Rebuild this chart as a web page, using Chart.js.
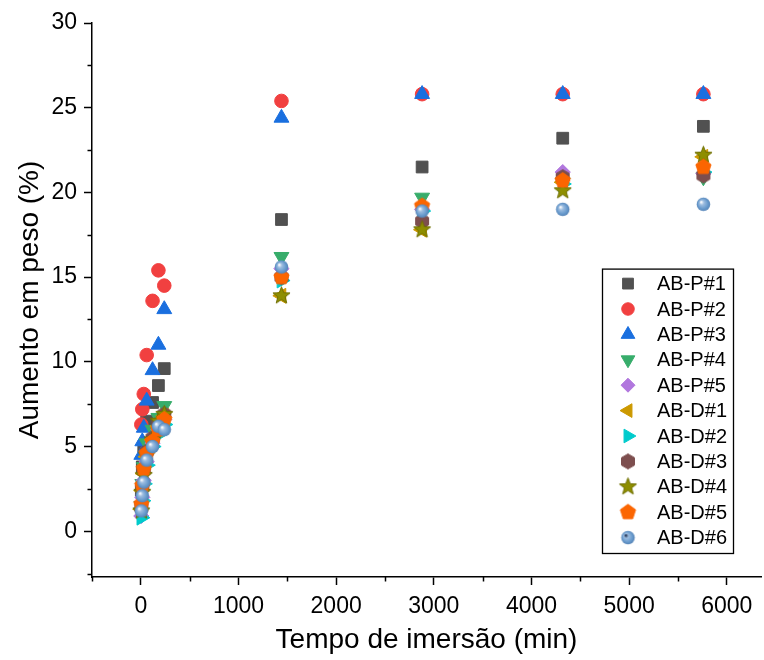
<!DOCTYPE html>
<html>
<head>
<meta charset="utf-8">
<script src="https://cdn.jsdelivr.net/npm/chart.js@4.4.1/dist/chart.umd.min.js"></script>
<style>
html,body{margin:0;padding:0;background:#ffffff;}
#wrap{width:764px;height:660px;}
</style>
</head>
<body>
<div id="wrap"><canvas id="c" width="764" height="660"></canvas></div>
<script>
// ---------- DATA ----------
const timeMin = [5, 15, 30, 60, 120, 180, 240, 1440, 2880, 4320, 5760];
const seriesLabels = ['AB-P#1','AB-P#2','AB-P#3','AB-P#4','AB-P#5','AB-D#1','AB-D#2','AB-D#3','AB-D#4','AB-D#5','AB-D#6'];
const abP1 = [2.4, 3.8, 5.0, 6.5, 7.6, 8.6, 9.6, 18.4, 21.5, 23.2, 23.9];
const abP2 = [6.3, 7.2, 8.1, 10.4, 13.6, 15.4, 14.5, 25.4, 25.8, 25.8, 25.8];
const abP3 = [4.5, 5.3, 6.1, 7.7, 9.5, 11.0, 13.1, 24.4, 25.8, 25.8, 25.8];
const abP4 = [1.5, 2.8, 3.8, 5.2, 6.0, 6.7, 7.4, 16.2, 19.7, 20.6, 20.9];
const abP5 = [0.9, 2.0, 3.0, 4.1, 5.2, 6.0, 6.6, 15.5, 19.0, 21.2, 21.1];
const abD1 = [1.3, 2.4, 3.4, 4.4, 5.4, 6.2, 6.8, 13.9, 17.8, 20.6, 22.1];
const abD2 = [0.8, 1.8, 2.8, 3.9, 5.0, 5.7, 6.3, 14.8, 18.9, 20.5, 21.2];
const abD3 = [1.4, 2.6, 3.6, 4.7, 5.5, 6.3, 6.9, 15.0, 18.3, 20.9, 21.0];
const abD4 = [1.2, 2.3, 3.3, 4.5, 5.4, 6.5, 6.9, 13.9, 17.8, 20.1, 22.2];
const abD5 = [1.6, 2.7, 3.7, 4.6, 5.3, 6.0, 6.6, 15.0, 19.2, 20.7, 21.5];
const abD6 = [1.2, 2.1, 2.9, 4.2, 5.0, 6.2, 6.0, 15.6, 18.9, 19.0, 19.3];
const xTickValues = [0, 1000, 2000, 3000, 4000, 5000, 6000];
const yTickValues = [0, 5, 10, 15, 20, 25, 30];
const xMinorTicks = [-500, 500, 1500, 2500, 3500, 4500, 5500];
const yMinorTicks = [-2.5, 2.5, 7.5, 12.5, 17.5, 22.5, 27.5];

// ---------- STYLE ----------
const FONT = "'Liberation Sans', Arial, sans-serif";
const colors = ['#515151','#F14040','#1A6FDF','#37AD6B','#B177DE','#CC9900','#00CBCC','#7D4E4E','#8E8E00','#FB6501','#6699CC'];

function mkCanvas(size){ const c=document.createElement('canvas'); c.width=size; c.height=size; return c; }
function polyCanvas(r, n, color, startAng){
  const s = Math.ceil(2*r+3); const c = mkCanvas(s); const g = c.getContext('2d');
  g.beginPath();
  for(let i=0;i<n;i++){ const a = startAng + i*2*Math.PI/n; const px=s/2+r*Math.cos(a), py=s/2+r*Math.sin(a); i?g.lineTo(px,py):g.moveTo(px,py); }
  g.closePath(); g.fillStyle=color; g.fill(); g.lineWidth=1; g.strokeStyle=color; g.stroke();
  return c;
}
function starCanvas(ro, ri, color){
  const s = Math.ceil(2*ro+3); const c = mkCanvas(s); const g = c.getContext('2d');
  g.beginPath();
  for(let i=0;i<10;i++){ const r = i%2?ri:ro; const a=-Math.PI/2 + i*Math.PI/5; const px=s/2+r*Math.cos(a), py=s/2+r*Math.sin(a); i?g.lineTo(px,py):g.moveTo(px,py); }
  g.closePath(); g.fillStyle=color; g.fill(); g.lineWidth=1; g.strokeStyle='#6f6f00'; g.stroke();
  return c;
}
function sphereCanvas(r, hi){
  const s = Math.ceil(2*r+3); const c = mkCanvas(s); const g = c.getContext('2d');
  const cx=s/2, cy=s/2;
  const gr = g.createRadialGradient(cx-r*0.35, cy-r*0.35, r*0.05, cx, cy, r);
  gr.addColorStop(0, hi); gr.addColorStop(0.3, '#9dbde0'); gr.addColorStop(0.75, '#6699CC'); gr.addColorStop(1, '#5582b5');
  g.beginPath(); g.arc(cx,cy,r,0,2*Math.PI); g.fillStyle=gr; g.fill();
  return c;
}
const hexStyle = polyCanvas(7.5, 6, colors[7], -Math.PI/2);
const starStyle = starCanvas(9, 3.8, colors[8]);
const pentStyle = polyCanvas(8, 5, colors[9], -Math.PI/2);
const sphereStyle = sphereCanvas(6.8, '#ffffff');
const sphereLegend = sphereCanvas(6.8, '#1b2b4b');

const markers = [
  {pointStyle:'rect', radius:8.3, rotation:0},
  {pointStyle:'circle', radius:6.8, rotation:0},
  {pointStyle:'triangle', radius:8.6, rotation:0},
  {pointStyle:'triangle', radius:8.6, rotation:180},
  {pointStyle:'rectRot', radius:7.6, rotation:0},
  {pointStyle:'triangle', radius:8.6, rotation:270},
  {pointStyle:'triangle', radius:8.6, rotation:90},
  {pointStyle:hexStyle, radius:7.5, rotation:0},
  {pointStyle:starStyle, radius:9, rotation:0},
  {pointStyle:pentStyle, radius:8, rotation:0},
  {pointStyle:sphereStyle, radius:6.8, rotation:0, legendStyle:sphereLegend}
];
const seriesValues = [abP1, abP2, abP3, abP4, abP5, abD1, abD2, abD3, abD4, abD5, abD6];

const datasets = seriesValues.map((vals, i) => ({
  label: seriesLabels[i],
  data: timeMin.map((t, k) => ({x: t, y: vals[k]})),
  pointStyle: markers[i].pointStyle,
  pointRadius: markers[i].radius,
  pointHoverRadius: markers[i].radius,
  pointRotation: markers[i].rotation,
  backgroundColor: colors[i],
  borderColor: colors[i],
  pointBorderWidth: 1,
  showLine: false,
  order: seriesValues.length - i
}));

// minor ticks plugin
const minorTicks = {
  id: 'minorTicks',
  afterDraw(chart){
    const {ctx, scales:{x, y}, chartArea} = chart;
    ctx.save(); ctx.strokeStyle='#000'; ctx.lineWidth=1.5;
    xMinorTicks.forEach(v => { const px = Math.round(x.getPixelForValue(v))+0.5; ctx.beginPath(); ctx.moveTo(px, chartArea.bottom); ctx.lineTo(px, chartArea.bottom+4.5); ctx.stroke(); });
    yMinorTicks.forEach(v => { const py = Math.round(y.getPixelForValue(v))+0.5; ctx.beginPath(); ctx.moveTo(chartArea.left, py); ctx.lineTo(chartArea.left-4.5, py); ctx.stroke(); });
    ctx.restore();
  }
};

// boxed legend inside plot
const boxLegend = {
  id: 'boxLegend',
  afterDatasetsDraw(chart){
    const {ctx, chartArea} = chart;
    const right = chartArea.right - 28, bottom = chartArea.bottom - 24;
    const w = 131, rowH = 25.4, h = 11*rowH + 5;
    const left = right - w, top = bottom - h;
    ctx.save();
    ctx.fillStyle = '#fff'; ctx.fillRect(left, top, w, h);
    ctx.strokeStyle = '#000'; ctx.lineWidth = 1.3; ctx.strokeRect(left+0.5, top+0.5, w, h);
    ctx.font = '20px ' + FONT; ctx.textBaseline = 'middle'; ctx.textAlign = 'left';
    chart.data.datasets.forEach((ds, i) => {
      const cy = top + 15 + i*rowH, cx = left + 26;
      const m = markers[i];
      const style = m.legendStyle || m.pointStyle;
      ctx.fillStyle = colors[i]; ctx.strokeStyle = colors[i]; ctx.lineWidth = 1;
      if (Chart.helpers && Chart.helpers.drawPoint) {
        Chart.helpers.drawPoint(ctx, {pointStyle: style, radius: m.radius*0.92, rotation: m.rotation, borderWidth: 1}, cx, cy);
      }
      ctx.fillStyle = '#000';
      ctx.fillText(ds.label, left + 55, cy + 1);
    });
    ctx.restore();
  }
};

const axisFontTick = {family: FONT, size: 23};
const axisFontTitle = {family: FONT, size: 28};

new Chart(document.getElementById('c'), {
  type: 'scatter',
  data: { datasets },
  options: {
    responsive: false,
    animation: false,
    devicePixelRatio: 1,
    layout: { autoPadding: false, padding: { top: 23, right: 3, left: 0, bottom: 0 } },
    plugins: { legend: { display: false }, tooltip: { enabled: false } },
    scales: {
      x: {
        type: 'linear', min: -500, max: 6350,
        border: { display: true, color: '#000', width: 1.5 },
        grid: { display: true, drawOnChartArea: false, drawTicks: true, tickLength: 8, tickColor: '#000', tickWidth: 1.5 },
        ticks: { color: '#000', font: axisFontTick, padding: 8, maxRotation: 0, autoSkip: false, callback: v => String(v) },
        afterBuildTicks: s => { s.ticks = xTickValues.map(v => ({value: v})); },
        afterFit: s => { s.height = 83; },
        title: { display: true, text: 'Tempo de imersão (min)', color: '#000', font: axisFontTitle, padding: { top: 0, bottom: 3 } }
      },
      y: {
        type: 'linear', min: -2.7, max: 30,
        border: { display: true, color: '#000', width: 1.5 },
        grid: { display: true, drawOnChartArea: false, drawTicks: true, tickLength: 8, tickColor: '#000', tickWidth: 1.5 },
        ticks: { color: '#000', font: axisFontTick, padding: 7, autoSkip: false, callback: v => String(v) },
        afterBuildTicks: s => { s.ticks = yTickValues.map(v => ({value: v})); },
        afterFit: s => { s.width = 92; },
        title: { display: true, text: 'Aumento em peso (%)', color: '#000', font: axisFontTitle, padding: { top: 13, bottom: 0 } }
      }
    }
  },
  plugins: [minorTicks, boxLegend]
});
</script>
</body>
</html>
